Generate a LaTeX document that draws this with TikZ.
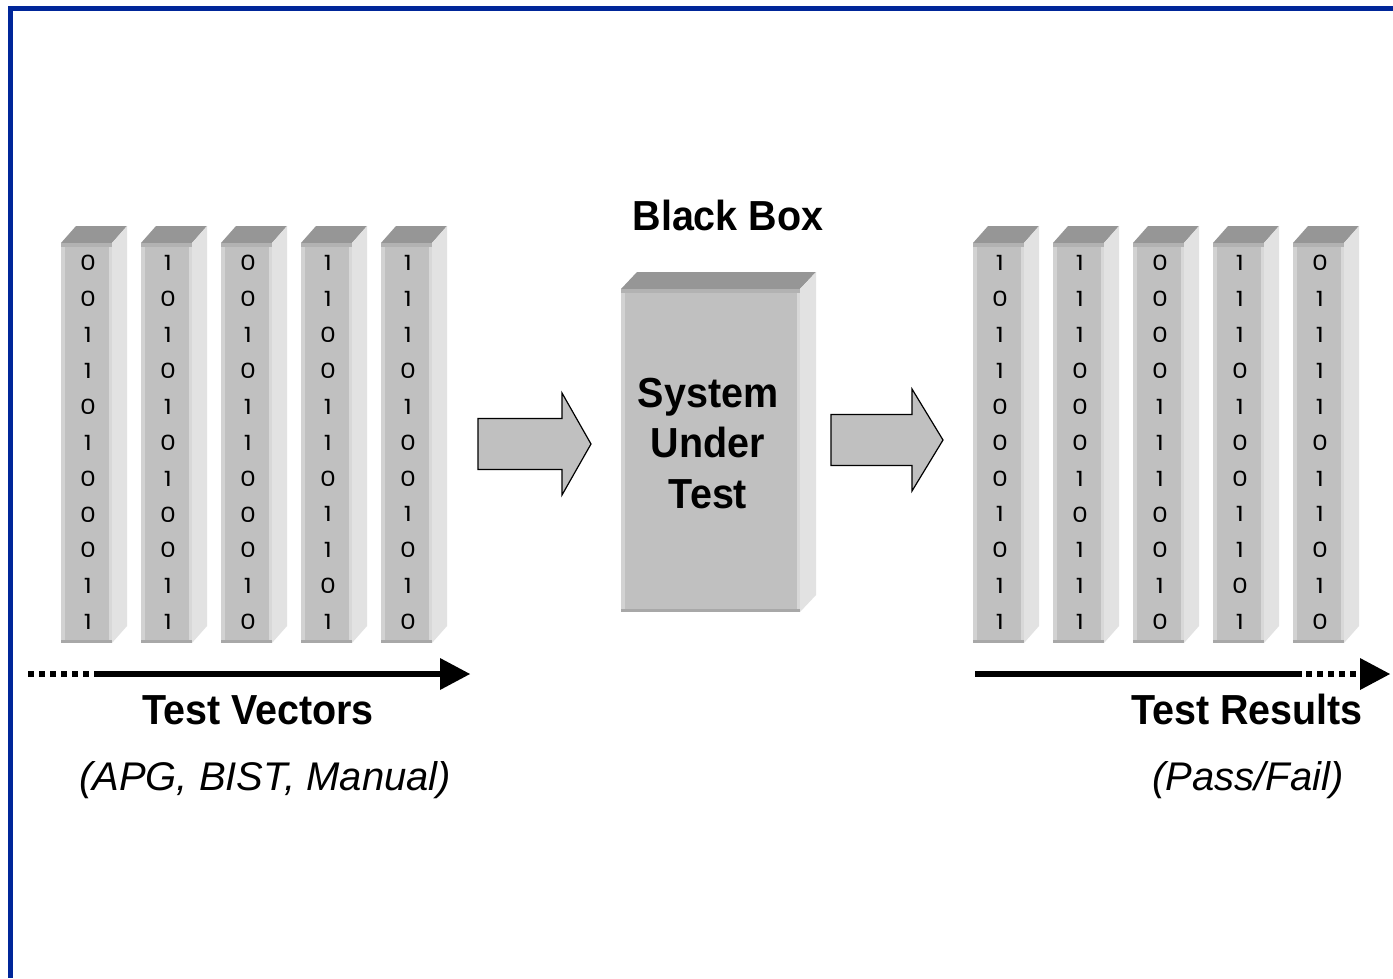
\documentclass[tikz,border=0pt]{standalone}
\usepackage{fontspec}
\setmainfont{Liberation Sans}
\newfontfamily\headfont[FakeStretch=0.94]{Liberation Sans}
\newfontfamily\bitfont[FakeStretch=1.2]{Poppins}

\definecolor{frameblue}{RGB}{0,38,153}
\definecolor{facegray}{RGB}{192,192,192}
\definecolor{edgelight}{RGB}{210,210,210}
\definecolor{edgeright}{RGB}{216,216,216}
\definecolor{sidegray}{RGB}{226,226,226}
\definecolor{topgray}{RGB}{150,150,150}
\definecolor{rimgray}{RGB}{178,178,178}
\definecolor{basegray}{RGB}{168,168,168}

\tikzset{
  bit/.style={font=\bitfont\fontsize{21}{25}\selectfont, inner sep=0pt},
  headtext/.style={font=\headfont\bfseries\fontsize{42}{50}\selectfont, inner sep=0pt, anchor=base},
  subtext/.style={font=\itshape\fontsize{40}{48}\selectfont, inner sep=0pt, anchor=base},
  blockarrow/.style={draw=black, fill=facegray, line width=1.2pt, line join=miter},
  timeline/.style={line width=6pt, line cap=butt},
  dotted part/.style={timeline, dash pattern=on 6pt off 5pt},
}

% a shaded 3-D block: name, left, top, right, bottom, depth offset dx, dy
\newcommand\drawprism[7]{%
  \fill[topgray] (#2,#3) -- (#2+#6,#3-#7) -- (#4+#6,#3-#7) -- (#4,#3) -- cycle;
  \fill[sidegray] (#4,#3) -- (#4+#6,#3-#7) -- (#4+#6,#5-#7) -- (#4,#5) -- cycle;
  \fill[facegray] (#2,#3) rectangle (#4,#5);
  \fill[edgelight] (#2,#3) rectangle (#2+4,#5);
  \fill[edgeright] (#4-3.5,#3) rectangle (#4,#5);
  \fill[rimgray] (#2,#3) rectangle (#4,#3+3.5);
  \fill[basegray] (#2,#5-3.5) rectangle (#4,#5);
  \coordinate (#1) at ({(#2+#4)/2},{(#3+#5)/2});
}

\begin{document}
\begin{tikzpicture}[x=1pt,y=-1pt]
  \useasboundingbox (0,0) rectangle (1393,978);
  \fill[white] (0,0) rectangle (1393,978);

  % frame
  \draw[frameblue, line width=5pt, line join=miter] (1393,8.5) -- (10.5,8.5) -- (10.5,978);

  % input vectors
  \foreach \col [count=\i] in {{0,0,1,1,0,1,0,0,0,1,1},{1,0,1,0,1,0,1,0,0,1,1},{0,0,1,0,1,1,0,0,0,1,0},{1,1,0,0,1,1,0,1,1,0,1},{1,1,1,0,1,0,0,1,0,1,0}} {
    \pgfmathsetmacro\lx{61+80*(\i-1)}
    \drawprism{in\i}{\lx}{243}{\lx+51}{643}{15}{17}
    \foreach \b [count=\j] in \col {
      \node[bit] (in\i-\j) at (\lx+27,{263+35.9*(\j-1)}) {\b};
    }
  }

  % output vectors
  \foreach \col [count=\i] in {{1,0,1,1,0,0,0,1,0,1,1},{1,1,1,0,0,0,1,0,1,1,1},{0,0,0,0,1,1,1,0,0,1,0},{1,1,1,0,1,0,0,1,1,0,1},{0,1,1,1,1,0,1,1,0,1,0}} {
    \pgfmathsetmacro\lx{973+80*(\i-1)}
    \drawprism{out\i}{\lx}{243}{\lx+51}{643}{15}{17}
    \foreach \b [count=\j] in \col {
      \node[bit] (out\i-\j) at (\lx+27,{263+35.9*(\j-1)}) {\b};
    }
  }

  % system under test
  \drawprism{sut}{621}{289}{800}{612}{16}{17}
  \node[headtext] (blackbox) at (728,230) {Black Box};
  \node[headtext] (sut1) at (708,407) {System};
  \node[headtext] (sut2) at (708,457.5) {Under};
  \node[headtext] (sut3) at (708,508) {Test};

  % block arrows
  \draw[blockarrow] (478,418.5) -- (562,418.5) -- (562,393) -- (591,444) -- (562,495)
    -- (562,469.5) -- (478,469.5) -- cycle;
  \draw[blockarrow] (831,414.5) -- (912,414.5) -- (912,389) -- (943,440) -- (912,491)
    -- (912,465.5) -- (831,465.5) -- cycle;

  % time lines
  \coordinate (tvstart) at (28,674);
  \coordinate (tvsolid) at (97,674);
  \coordinate (tvhead) at (441,674);
  \draw[dotted part] (tvstart) -- (tvsolid);
  \draw[timeline] (tvsolid) -- (tvhead);
  \fill (440,658) -- (470,674) -- (440,690) -- cycle;

  \coordinate (trstart) at (975,674);
  \coordinate (trdots) at (1302,674);
  \coordinate (trhead) at (1361,674);
  \draw[timeline] (trstart) -- (trdots);
  \draw[dotted part] (1306,674) -- (trhead);
  \fill (1360,658) -- (1390,674) -- (1360,690) -- cycle;

  % captions
  \node[headtext] (tv) at (258,724) {Test Vectors};
  \node[subtext] (tvsrc) at (265,790) {(APG, BIST, Manual)};
  \node[headtext] (tr) at (1247,724) {Test Results};
  \node[subtext] (trsrc) at (1248,790) {(Pass/Fail)};
\end{tikzpicture}
\end{document}
